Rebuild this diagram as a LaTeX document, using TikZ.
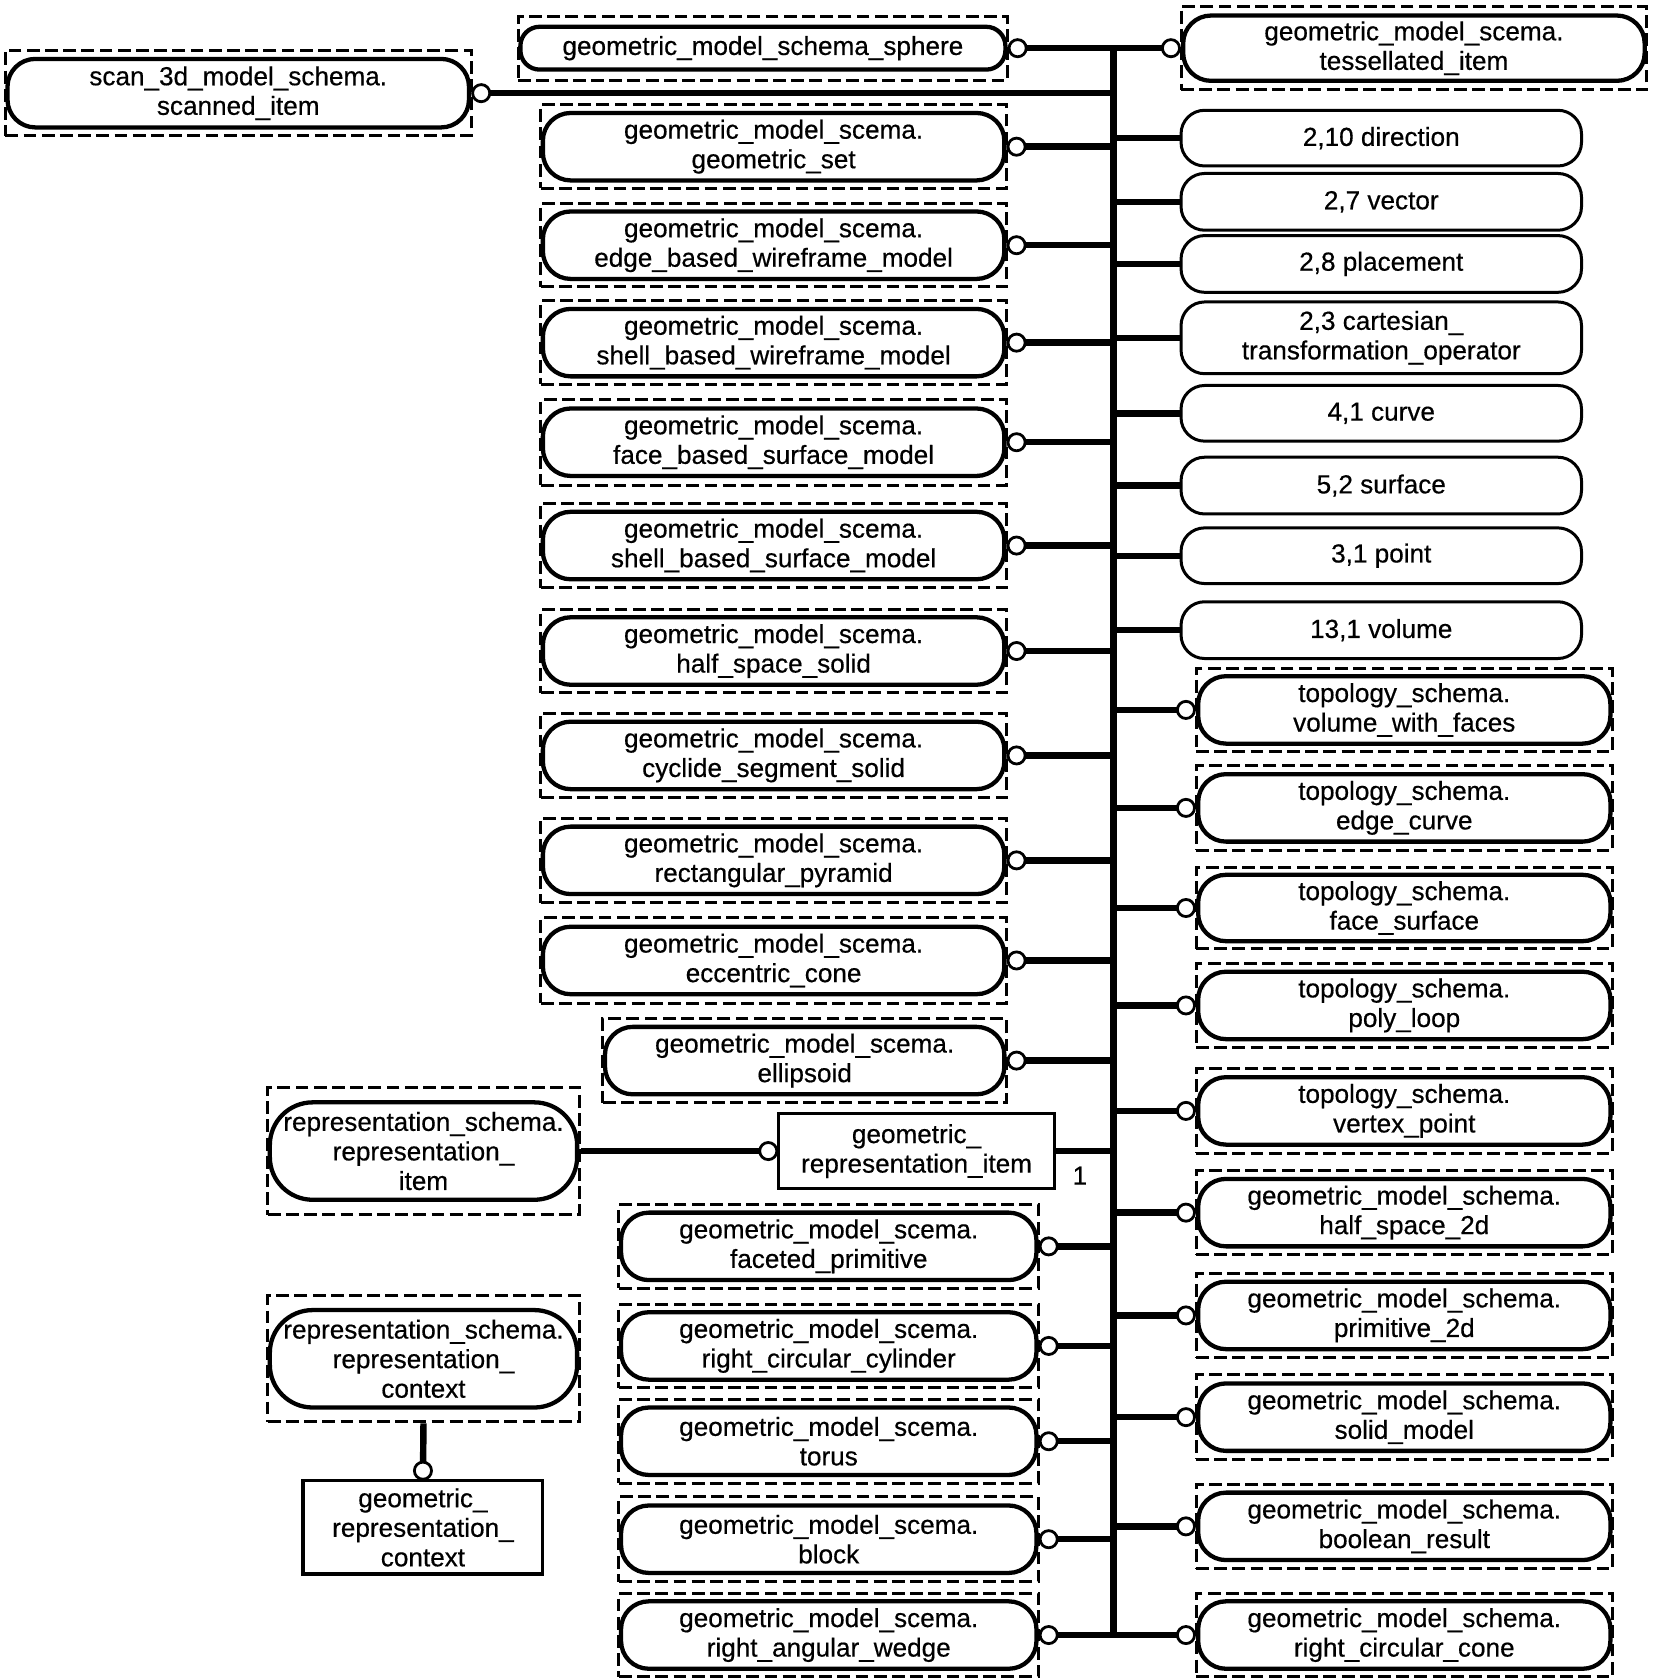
\documentclass[tikz,border=0pt]{standalone}
\usepackage{fontspec}
\setmainfont{Liberation Sans}[BoldFont=Liberation Sans, BoldFeatures={FakeBold=0.5}]
\usepackage{tikz}
\usetikzlibrary{calc}
% entita' esterna: cornice tratteggiata e riquadro arrotondato
% #1 opzioni, #2 nome, #3 x, #4 y, #5 larghezza, #6 altezza cornice, #7 altezza riquadro, #8 testo
\newcommand{\entita}[8][]{
\node[cornice, minimum width={#5*0.5pt}, minimum height={#6*0.5pt}] (#2) at (#3,#4) {};
\node[ent, minimum width={(#5-4)*0.5pt}, minimum height={#7*0.5pt}, #1] (#2-in) at (#3,#4) {#8};
}
% collegamenti verso il bus
\newcommand{\legaSx}[1]{
\draw[link] (#1.east) -- (#1.east -| bus);
\draw[cerchio] ([xshift=4pt]#1.east) circle (4pt);
}
\newcommand{\legaDx}[1]{
\draw[link] (#1.west -| bus) -- (#1.west);
\draw[cerchio] ([xshift=-4pt]#1.west) circle (4pt);
}
\newcommand{\legaBase}[1]{
\draw[link] (#1.west -| bus) -- (#1.west);
}

\begin{document}
\begin{tikzpicture}[x=0.5pt, y=-0.5pt, font=\fontsize{12.2}{13.8}\selectfont\bfseries,
    cornice/.style={draw, dash pattern=on 6pt off 2.5pt, line width=1.4pt, inner sep=0pt},
    ent/.style={draw, rounded corners=13pt, line width=2pt, align=center, inner sep=0pt},
    base/.style={draw, rounded corners=11pt, line width=1.4pt, align=center, inner sep=0pt, minimum width=187pt},
    rett/.style={draw, line width=1.5pt, align=center, inner sep=0pt},
    link/.style={line width=3pt},
    cerchio/.style={draw, fill=white, line width=1.3pt}]
    \useasboundingbox (0,0) rectangle (1545,1569);
    % Bus verticale
    \coordinate (bus) at (1040,45);
    \coordinate (busfine) at (1040,1527);
    \draw[link] (bus) -- (busfine);
    % Colonna sinistra
    \entita{scan}{222.5}{87}{435}{80}{64}{scan\_3d\_model\_schema.\\scanned\_item}
    \entita[rounded corners=9pt]{sfera}{712.5}{45}{457}{60}{40}{geometric\_model\_schema\_sphere}
    \entita{gset}{722.5}{137}{435}{78}{63}{geometric\_model\_scema.\\geometric\_set}
    \entita{ebwm}{722.5}{229}{435}{78}{63}{geometric\_model\_scema.\\edge\_based\_wireframe\_model}
    \entita{sbwm}{722.5}{320}{435}{78}{63}{geometric\_model\_scema.\\shell\_based\_wireframe\_model}
    \entita{fbsm}{722.5}{413}{435}{80}{63}{geometric\_model\_scema.\\face\_based\_surface\_model}
    \entita{sbsm}{722.5}{509.5}{435}{79}{63}{geometric\_model\_scema.\\shell\_based\_surface\_model}
    \entita{hss}{722.5}{608}{435}{78}{63}{geometric\_model\_scema.\\half\_space\_solid}
    \entita{css}{722.5}{705.5}{435}{79}{63}{geometric\_model\_scema.\\cyclide\_segment\_solid}
    \entita{rpir}{722.5}{803.5}{435}{79}{63}{geometric\_model\_scema.\\rectangular\_pyramid}
    \entita{econo}{722.5}{897}{435}{80}{63}{geometric\_model\_scema.\\eccentric\_cone}
    \entita{ellis}{751.5}{990.5}{377}{79}{63}{geometric\_model\_scema.\\ellipsoid}
    \entita{fprim}{774}{1164}{392}{78}{63}{geometric\_model\_scema.\\faceted\_primitive}
    \entita{rccil}{774}{1257}{392}{78}{63}{geometric\_model\_scema.\\right\_circular\_cylinder}
    \entita{toro}{774}{1346}{392}{78}{63}{geometric\_model\_scema.\\torus}
    \entita{blocco}{774}{1437.5}{392}{79}{63}{geometric\_model\_scema.\\block}
    \entita{cuneo}{774}{1527}{392}{78}{63}{geometric\_model\_scema.\\right\_angular\_wedge}
    % Colonna destra
    \entita{tess}{1320.5}{45}{435}{78}{61}{geometric\_model\_scema.\\tessellated\_item}
    \node[base, minimum height=26pt] (dir) at (1290,129) {2,10 direction};
    \node[base, minimum height=26.5pt] (vett) at (1290,188.5) {2,7 vector};
    \node[base, minimum height=26.5pt] (plac) at (1290,246.5) {2,8 placement};
    \node[base, minimum height=33.5pt] (cto) at (1290,315.5) {2,3 cartesian\_\\transformation\_operator};
    \node[base, minimum height=26pt] (curva) at (1290,386) {4,1 curve};
    \node[base, minimum height=26.5pt] (superf) at (1290,453.5) {5,2 surface};
    \node[base, minimum height=26pt] (punto) at (1290,519) {3,1 point};
    \node[base, minimum height=26.5pt] (vol) at (1290,588.5) {13,1 volume};
    \entita{vwf}{1311.5}{663}{389}{78}{63}{topology\_schema.\\volume\_with\_faces}
    \entita{ecurve}{1311.5}{754.5}{389}{79}{63}{topology\_schema.\\edge\_curve}
    \entita{fsurf}{1311.5}{848}{389}{76}{62}{topology\_schema.\\face\_surface}
    \entita{ploop}{1311.5}{939}{389}{78}{63}{topology\_schema.\\poly\_loop}
    \entita{vpoint}{1311.5}{1037.5}{389}{79}{63}{topology\_schema.\\vertex\_point}
    \entita{hsdue}{1311.5}{1132.5}{389}{79}{63}{geometric\_model\_schema.\\half\_space\_2d}
    \entita{pdue}{1311.5}{1228.5}{389}{79}{63}{geometric\_model\_schema.\\primitive\_2d}
    \entita{smod}{1311.5}{1323.5}{389}{79}{63}{geometric\_model\_schema.\\solid\_model}
    \entita{bres}{1311.5}{1425.5}{389}{79}{63}{geometric\_model\_schema.\\boolean\_result}
    \entita{rcono}{1311.5}{1527}{389}{78}{63}{geometric\_model\_schema.\\right\_circular\_cone}
    % Rappresentazione
    \node[rett, minimum width=129pt, minimum height=35pt] (gri) at (856,1075) {geometric\_\\representation\_item};
    \node (uno) at ([shift={(11pt,-11.5pt)}]gri.east) {1};
    \entita[rounded corners=20pt]{ritem}{395.5}{1075}{291}{119}{91}{representation\_schema.\\representation\_\\item}
    \entita[rounded corners=20pt]{rcont}{395.5}{1269}{291}{118}{91}{representation\_schema.\\representation\_\\context}
    \node[rett, minimum width=112pt, minimum height=43.5pt] (grc) at (395,1426.5) {geometric\_\\representation\_\\context};
    % Collegamenti
    \draw[link] (sfera.east) -- (tess.west);
    \draw[cerchio] ([xshift=4pt]sfera.east) circle (4pt);
    \draw[cerchio] ([xshift=-4pt]tess.west) circle (4pt);
    \legaSx{scan}
    \legaSx{gset}
    \legaSx{ebwm}
    \legaSx{sbwm}
    \legaSx{fbsm}
    \legaSx{sbsm}
    \legaSx{hss}
    \legaSx{css}
    \legaSx{rpir}
    \legaSx{econo}
    \legaSx{ellis}
    \legaSx{fprim}
    \legaSx{rccil}
    \legaSx{toro}
    \legaSx{blocco}
    \legaSx{cuneo}
    \legaBase{dir}
    \legaBase{vett}
    \legaBase{plac}
    \legaBase{cto}
    \legaBase{curva}
    \legaBase{superf}
    \legaBase{punto}
    \legaBase{vol}
    \legaDx{vwf}
    \legaDx{ecurve}
    \legaDx{fsurf}
    \legaDx{ploop}
    \legaDx{vpoint}
    \legaDx{hsdue}
    \legaDx{pdue}
    \legaDx{smod}
    \legaDx{bres}
    \legaDx{rcono}
    \draw[link] (gri.east) -- (gri.east -| bus);
    \draw[link] (ritem.east) -- (gri.west);
    \draw[cerchio] ([xshift=-4pt]gri.west) circle (4pt);
    \draw[link] (rcont.south) -- (grc.north);
    \draw[cerchio] ([yshift=4pt]grc.north) circle (4pt);
\end{tikzpicture}
\end{document}
